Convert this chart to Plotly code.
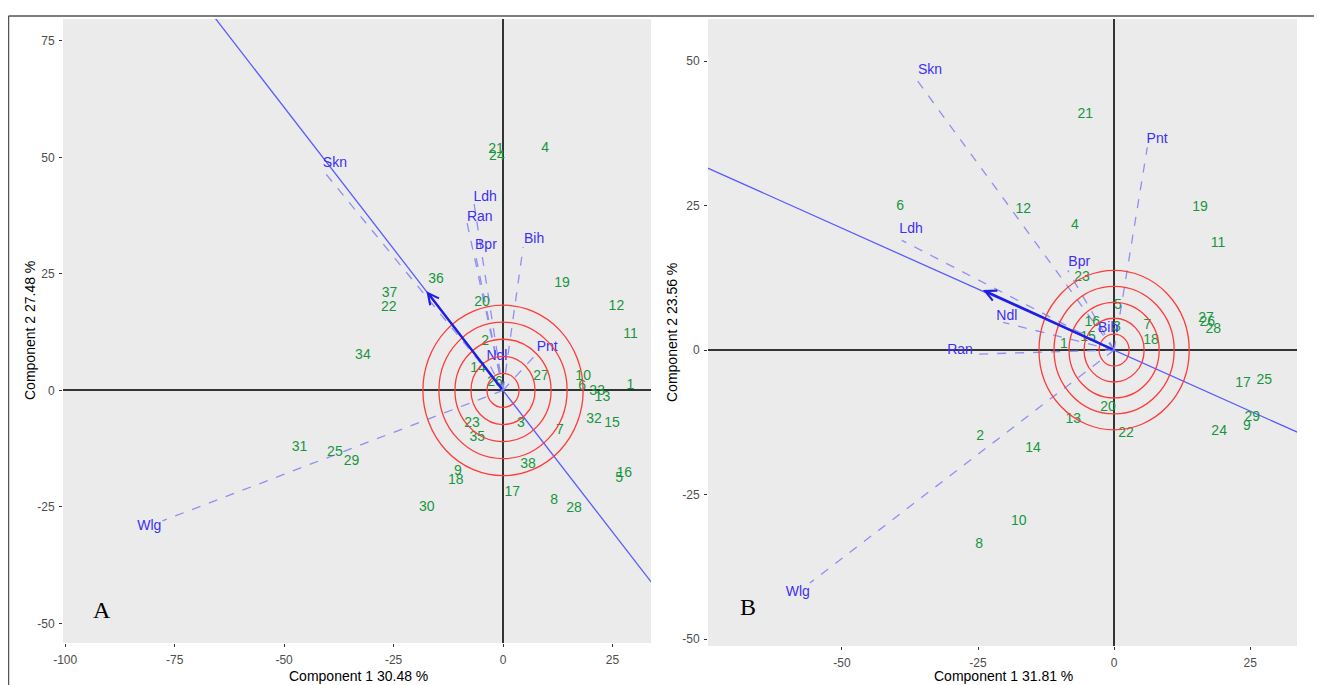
import plotly.graph_objects as go

# ---------------- Panel A data ----------------
A_geno = [str(i) for i in range(1, 39)]
A_pc1 = [29.1, -4.1, 4.1, 9.6, 26.5, 18.1, 13.0, 11.7, -10.3, 18.3,
         29.1, 25.9, 22.7, -5.7, 24.9, 27.7, 2.1, -10.8, 13.5, -4.8,
         -1.6, -26.1, -7.1, -1.4, -38.4, -1.8, 8.7, 16.2, -34.6, -17.4,
         -46.5, 20.8, 21.5, -32.0, -5.9, -15.3, -25.9, 5.7]
A_pc2 = [1.0, 10.6, -7.2, 52.0, -18.8, 0.8, -8.7, -23.7, -17.3, 2.9,
         11.9, 18.1, -1.6, 4.8, -7.0, -17.9, -22.0, -19.4, 22.9, 18.8,
         51.6, 17.9, -7.0, 50.1, -13.4, 1.6, 2.9, -25.4, -15.3, -25.2,
         -12.3, -6.3, -0.3, 7.4, -10.0, 23.7, 20.7, -16.0]
A_vars = ["Skn", "Ldh", "Ran", "Bpr", "Bih", "Pnt", "Ndl", "Wlg"]
A_load1 = [-41.2, -6.6, -8.2, -6.4, 4.6, 7.8, -3.4, -77.8]
A_load2 = [47.3, 40.0, 35.9, 29.7, 30.8, 8.0, 6.1, -28.0]
A_lab1 = [-38.4, -4.1, -5.3, -3.9, 7.1, 10.1, -1.4, -80.8]
A_lab2 = [48.6, 41.3, 37.2, 31.2, 32.3, 9.3, 7.2, -29.3]
A_radii = [3.66, 7.32, 10.98, 14.64, 18.3]
A_slope = -1.215
A_arrow = (-17.5, 21.3)
A_xticks = [-100, -75, -50, -25, 0, 25]
A_yticks = [-50, -25, 0, 25, 50, 75]
A_xtitle = "Component 1 30.48 %"
A_ytitle = "Component 2 27.48 %"

# ---------------- Panel B data ----------------
B_geno = [str(i) for i in range(1, 30)]
B_pc1 = [-9.2, -24.6, 0.5, -7.2, 0.7, -39.3, 6.1, -24.8, 24.4, -17.5,
         19.1, -16.7, -7.5, -14.9, -4.8, -4.0, 23.7, 6.8, 15.8, -1.1,
         -5.3, 2.2, -5.9, 19.3, 27.6, 17.1, 16.9, 18.2, 25.4]
B_pc2 = [0.9, -14.9, 4.0, 21.5, 7.8, 24.9, 4.3, -33.7, -13.3, -29.6,
         18.5, 24.4, -12.0, -17.1, 2.2, 4.8, -5.7, 1.7, 24.6, -9.9,
         40.8, -14.5, 12.5, -14.0, -5.2, 4.7, 5.5, 3.6, -11.7]
B_vars = ["Skn", "Pnt", "Ldh", "Bpr", "Ndl", "Ran", "Bih", "Wlg"]
B_load1 = [-36.2, 6.1, -39.0, -8.5, -20.4, -25.6, -1.5, -55.9]
B_load2 = [46.7, 35.1, 19.0, 13.8, 4.8, -0.7, 2.5, -40.3]
B_lab1 = [-33.8, 7.9, -37.3, -6.4, -19.7, -28.3, -1.1, -58.1]
B_lab2 = [48.4, 36.5, 20.8, 15.2, 5.9, 0.0, 3.8, -41.9]
B_radii = [2.76, 5.52, 8.28, 11.04, 13.8]
B_slope = -0.422
B_arrow = (-24.1, 10.4)
B_xticks = [-50, -25, 0, 25]
B_yticks = [-50, -25, 0, 25, 50]
B_xtitle = "Component 1 31.81 %"
B_ytitle = "Component 2 23.56 %"

A_xrange = [-100.5, 33.8]
A_yrange = [-54.2, 79.7]
B_xrange = [-74.6, 33.6]
B_yrange = [-51.2, 57.3]

GREEN = "#17963F"
BLUE_TXT = "#3B30F5"
DASH_BLUE = "#8F8FF2"
LINE_BLUE = "#5A5AFF"
ARROW_BLUE = "#1E1EE6"
RED = "#FF3B3B"
FONT = "Liberation Sans, Arial, sans-serif"

# the page body adds an 8px margin; lay the figure out in screen pixels
OFF = 8
W, H = 1322 - OFF, 685 - OFF


def px(x):
    return (x - OFF) / W


def py(y):
    return 1 - (y - OFF) / H


fig = go.Figure()


def add_panel(xa, ya, pc1, pc2, geno, vars_, l1, l2, t1, t2, radii, slope, arrow, xr):
    dx, dy = [], []
    for a, b in zip(l1, l2):
        dx += [0, a, None]
        dy += [0, b, None]
    fig.add_trace(go.Scatter(x=dx, y=dy, mode="lines", xaxis=xa, yaxis=ya,
                             line=dict(color=DASH_BLUE, width=1.3, dash="dash"),
                             hoverinfo="skip", showlegend=False))
    fig.add_trace(go.Scatter(x=[xr[0] - 50, xr[1] + 50],
                             y=[slope * (xr[0] - 50), slope * (xr[1] + 50)],
                             mode="lines", xaxis=xa, yaxis=ya,
                             line=dict(color=LINE_BLUE, width=1.3),
                             hoverinfo="skip", showlegend=False))
    for r in radii:
        fig.add_shape(type="circle", xref=xa, yref=ya, x0=-r, x1=r, y0=-r, y1=r,
                      line=dict(color=RED, width=1.3), layer="above")
    fig.add_trace(go.Scatter(x=pc1, y=pc2, text=geno, mode="text", xaxis=xa, yaxis=ya,
                             textfont=dict(color=GREEN, size=14, family=FONT),
                             showlegend=False))
    fig.add_trace(go.Scatter(x=t1, y=t2, text=vars_, mode="text", xaxis=xa, yaxis=ya,
                             textfont=dict(color=BLUE_TXT, size=14, family=FONT),
                             showlegend=False))
    fig.add_annotation(x=arrow[0], y=arrow[1], ax=0, ay=0, xref=xa, yref=ya,
                       axref=xa, ayref=ya, text="", showarrow=True,
                       arrowhead=5, arrowsize=0.9, arrowwidth=2.4, arrowcolor=ARROW_BLUE)


add_panel("x", "y", A_pc1, A_pc2, A_geno, A_vars, A_load1, A_load2, A_lab1, A_lab2,
          A_radii, A_slope, A_arrow, A_xrange)
add_panel("x2", "y2", B_pc1, B_pc2, B_geno, B_vars, B_load1, B_load2, B_lab1, B_lab2,
          B_radii, B_slope, B_arrow, B_xrange)

serif = dict(family="Liberation Serif, Times New Roman, serif", size=24, color="black")
fig.add_annotation(x=-91.5, y=-47.1, xref="x", yref="y", text="A", showarrow=False, font=serif)
fig.add_annotation(x=-67.3, y=-44.5, xref="x2", yref="y2", text="B", showarrow=False, font=serif)

# axis titles
title_font = dict(family=FONT, size=14, color="black")
for txt, xx, yy, ang in [(A_xtitle, 358, 676, 0), (B_xtitle, 1003, 676, 0),
                         (A_ytitle, 30, 331, -90), (B_ytitle, 672, 333, -90)]:
    fig.add_annotation(x=px(xx), y=py(yy), xref="paper", yref="paper", text=txt,
                       showarrow=False, textangle=ang, font=title_font,
                       xanchor="center", yanchor="middle")

axis_common = dict(showgrid=False, zeroline=True, zerolinecolor="#333333", zerolinewidth=1.6,
                   ticks="outside", ticklen=3, tickcolor="#333333", tickwidth=1,
                   tickfont=dict(family=FONT, size=12, color="#4D4D4D"),
                   showline=False, mirror=False, automargin=False)


def tick_text(vals):
    return [str(v) for v in vals]


fig.update_layout(
    width=W, height=H,
    margin=dict(l=0, r=0, t=0, b=0, autoexpand=False),
    paper_bgcolor="white", plot_bgcolor="#EBEBEB",
    showlegend=False,
    xaxis=dict(domain=[px(63), px(651)], range=A_xrange,
               tickvals=A_xticks, ticktext=tick_text(A_xticks), ticklabelstandoff=3,
               **axis_common),
    yaxis=dict(domain=[py(643), py(19)], range=A_yrange,
               tickvals=A_yticks, ticktext=tick_text(A_yticks), ticklabelstandoff=2,
               **axis_common),
    xaxis2=dict(domain=[px(708), px(1297)], range=B_xrange, anchor="y2",
                tickvals=B_xticks, ticktext=tick_text(B_xticks), ticklabelstandoff=3,
                **axis_common),
    yaxis2=dict(domain=[py(646), py(19)], range=B_yrange, anchor="x2",
                tickvals=B_yticks, ticktext=tick_text(B_yticks), ticklabelstandoff=2,
                **axis_common),
)

# outer frame (top and left edges)
fig.add_shape(type="line", xref="paper", yref="paper", x0=px(8.5), x1=1, y0=py(16),
              y1=py(16), line=dict(color="#555555", width=1.5))
fig.add_shape(type="line", xref="paper", yref="paper", x0=px(8.5), x1=px(8.5), y0=0,
              y1=py(16), line=dict(color="#555555", width=1.5))

fig.write_html("out.html")
